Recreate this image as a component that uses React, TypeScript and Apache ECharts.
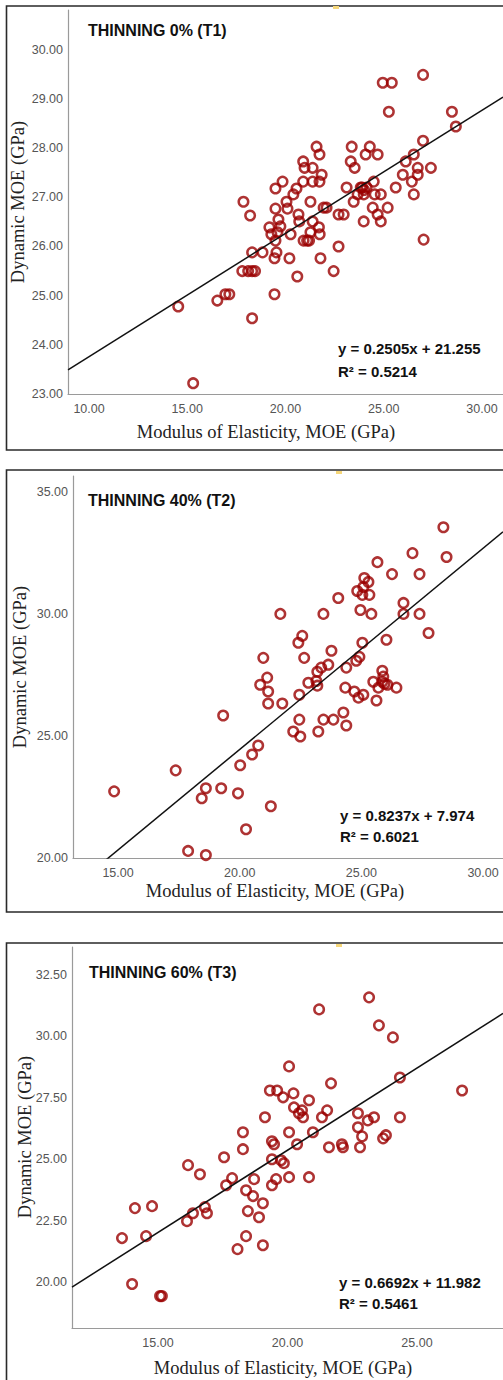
import React, { useEffect, useRef } from "react";
import * as echarts from "echarts";

// ---- Data ----
const t1X = [17.86, 18.2, 19.18, 19.49, 19.85, 19.49, 20.05, 20.1, 20.4, 20.56, 20.66, 20.7, 20.9, 20.9, 20.97, 21.27, 21.38, 21.38, 21.58, 21.73, 21.73, 21.84, 21.38, 21.7, 21.94, 22.09, 22.7, 22.96, 23.11, 23.32, 23.37, 23.52, 23.47, 23.67, 23.83, 23.98, 23.98, 24.08, 24.13, 24.29, 24.44, 24.49, 24.54, 24.69, 24.69, 24.85, 24.85, 24.95, 25.41, 25.26, 25.2, 25.61, 25.97, 26.12, 26.43, 26.53, 26.53, 26.73, 26.73, 27.0, 27.0, 27.4, 28.47, 28.67, 14.54, 15.3, 16.53, 16.94, 17.14, 17.8, 18.1, 18.3, 18.45, 18.3, 18.3, 18.83, 19.44, 19.44, 19.54, 19.28, 19.49, 19.59, 19.74, 20.2, 20.26, 20.6, 20.92, 21.1, 21.2, 21.27, 21.74, 21.78, 22.45, 22.7, 27.03, 19.64, 23.9, 24.0];
const t1Y = [26.91, 26.63, 26.39, 27.18, 27.32, 26.77, 26.91, 26.77, 27.06, 27.18, 26.65, 26.51, 27.32, 27.73, 27.6, 26.91, 27.6, 27.32, 28.03, 27.87, 27.32, 27.46, 26.51, 26.39, 26.79, 26.79, 26.65, 26.65, 27.2, 27.73, 28.03, 27.6, 26.91, 27.06, 27.2, 27.06, 26.51, 27.87, 27.2, 28.03, 26.79, 27.32, 27.06, 27.87, 26.65, 27.06, 26.51, 29.33, 29.33, 28.74, 26.79, 27.2, 27.46, 27.73, 27.32, 27.87, 27.06, 27.46, 27.6, 29.49, 28.15, 27.6, 28.74, 28.44, 24.78, 23.22, 24.9, 25.03, 25.03, 25.5, 25.5, 25.5, 25.5, 24.54, 25.88, 25.88, 25.03, 25.76, 25.88, 26.25, 26.12, 26.29, 26.41, 25.76, 26.25, 25.39, 26.12, 26.12, 26.12, 26.29, 26.25, 25.76, 25.5, 26.0, 26.14, 26.55, 27.2, 27.15];

const t2X = [28.37, 28.5, 27.1, 27.39, 25.66, 26.26, 25.12, 25.29, 24.83, 25.04, 25.33, 25.08, 24.05, 24.96, 25.41, 26.73, 26.73, 27.39, 27.76, 21.67, 23.44, 26.03, 25.04, 22.41, 22.57, 23.77, 20.97, 22.65, 24.79, 24.92, 23.64, 24.38, 23.19, 23.35, 25.86, 21.13, 20.84, 21.17, 21.17, 21.75, 22.45, 22.82, 23.19, 24.34, 24.71, 24.88, 25.08, 25.49, 25.7, 25.95, 26.07, 26.44, 25.62, 19.32, 22.45, 23.44, 23.85, 24.26, 24.38, 22.2, 23.23, 22.49, 20.76, 20.51, 20.02, 17.37, 14.84, 18.61, 18.44, 19.24, 19.93, 21.28, 20.26, 17.88, 18.61, 25.9, 25.86, 23.15];
const t2Y = [33.55, 32.33, 32.49, 31.63, 32.12, 31.63, 31.47, 31.31, 30.94, 30.78, 30.78, 31.1, 30.65, 30.16, 30.0, 30.45, 30.0, 30.0, 29.22, 30.0, 30.0, 28.94, 28.82, 28.82, 29.1, 28.49, 28.2, 28.2, 28.08, 28.24, 27.92, 27.8, 27.63, 27.8, 27.67, 27.39, 27.1, 26.82, 26.33, 26.33, 26.69, 27.18, 27.06, 26.98, 26.82, 26.57, 26.69, 27.22, 26.98, 27.14, 27.1, 26.98, 26.45, 25.84, 25.67, 25.67, 25.67, 25.96, 25.43, 25.18, 25.18, 24.98, 24.61, 24.24, 23.8, 23.59, 22.73, 22.86, 22.45, 22.86, 22.65, 22.12, 21.18, 20.29, 20.12, 27.43, 27.22, 27.25];

const t3X = [23.15, 21.22, 23.53, 24.07, 20.06, 21.68, 24.34, 26.74, 19.32, 19.6, 19.83, 20.23, 20.83, 20.25, 20.44, 20.56, 20.6, 21.53, 21.33, 19.13, 22.72, 23.1, 23.34, 24.34, 22.72, 22.88, 23.69, 23.8, 18.28, 20.06, 20.98, 19.4, 19.48, 20.37, 18.28, 21.6, 22.1, 22.14, 22.8, 17.55, 19.4, 19.75, 19.86, 16.16, 16.62, 17.86, 17.63, 18.71, 19.4, 19.56, 20.06, 20.83, 18.4, 18.67, 19.05, 14.11, 14.77, 16.81, 16.35, 16.89, 18.47, 16.12, 18.9, 13.61, 14.54, 18.4, 19.05, 18.07, 14.0, 15.08, 15.15];
const t3Y = [31.59, 31.1, 30.45, 29.96, 28.78, 28.09, 28.33, 27.8, 27.8, 27.8, 27.52, 27.68, 27.4, 27.11, 26.87, 26.99, 26.71, 26.99, 26.71, 26.71, 26.87, 26.58, 26.71, 26.71, 26.3, 25.93, 25.85, 25.98, 26.1, 26.1, 26.1, 25.73, 25.61, 25.61, 25.41, 25.49, 25.61, 25.49, 25.49, 25.08, 25.0, 24.96, 24.84, 24.76, 24.39, 24.23, 23.94, 24.19, 23.94, 24.19, 24.27, 24.27, 23.74, 23.5, 23.21, 23.01, 23.09, 23.05, 22.8, 22.8, 22.89, 22.48, 22.64, 21.79, 21.87, 21.87, 21.5, 21.34, 19.92, 19.43, 19.43];

const slopes = [0.2505, 0.8237, 0.6692];
const intercepts = [21.255, 7.974, 11.982];
const r2Values = ["0.5214", "0.6021", "0.5461"];
const slopeText = ["0.2505", "0.8237", "0.6692"];
const interceptText = ["21.255", "7.974", "11.982"];
const titles = ["THINNING 0% (T1)", "THINNING 40% (T2)", "THINNING 60% (T3)"];
const xTickValues = [[10, 15, 20, 25, 30], [15, 20, 25, 30], [15, 20, 25]];
const yTickValues = [[23, 24, 25, 26, 27, 28, 29, 30], [20, 25, 30, 35], [20, 22.5, 25, 27.5, 30, 32.5]];
const xTitle = "Modulus of Elasticity, MOE (GPa)";
const yTitle = "Dynamic MOE (GPa)";

// ---- Layout ----
const xRange = [[8.93, 31.07], [13.15, 30.82], [11.68, 28.32]];
const yRange = [[23, 30.81], [20, 35.65], [18.13, 33.64]];
const grids = [
  { left: 68, top: 10, width: 435, height: 384 },
  { left: 73, top: 476, width: 430, height: 382 },
  { left: 72, top: 947, width: 431, height: 381 },
];
const frames = [[6, 450], [470, 912], [943, 1500]];
const titlePos = [[88, 30], [88, 500], [89, 972]];
const eqPos = [[338, 348, 371], [340, 815, 836], [339, 1282, 1303]];
const xTitlePos = [[266, 432], [275, 891], [283, 1368]];
const yTitlePos = [[18, 202], [19.5, 667], [25, 1137]];
const marks = [[333, 6], [336, 471], [336, 944]];

const POINT = "#9a0000";
const TICK_FONT = "'Liberation Sans Narrow', 'Liberation Sans', Arial, sans-serif";
const SERIF = "'Liberation Serif', 'Times New Roman', serif";
const BOLD_FONT = "'Liberation Sans', Arial, sans-serif";

const panelsX = [t1X, t2X, t3X];
const panelsY = [t1Y, t2Y, t3Y];

export default function App() {
  const ref = useRef<HTMLDivElement>(null);
  useEffect(() => {
    if (!ref.current) return;
    const chart = echarts.init(ref.current, undefined, { renderer: "svg" });
    const fmt = (v: number) => Number(v).toFixed(2);
    const xAxis = [0, 1, 2].map((i) => ({
      type: "value",
      gridIndex: i,
      min: xRange[i][0],
      max: xRange[i][1],
      axisLine: { show: true, lineStyle: { color: "#9a9a9a", width: 1.2 } },
      axisTick: { show: false },
      splitLine: { show: false },
      axisLabel: {
        customValues: xTickValues[i],
        formatter: fmt,
        color: "#555",
        fontSize: 12.5,
        fontFamily: TICK_FONT,
        margin: 8,
      },
    }));
    const yAxis = [0, 1, 2].map((i) => ({
      type: "value",
      gridIndex: i,
      min: yRange[i][0],
      max: yRange[i][1],
      axisLine: { show: true, lineStyle: { color: "#9a9a9a", width: 1.2 } },
      axisTick: { show: false },
      splitLine: { show: false },
      axisLabel: {
        customValues: yTickValues[i],
        formatter: fmt,
        color: "#555",
        fontSize: 12.5,
        fontFamily: TICK_FONT,
        margin: 5,
      },
    }));
    const series: any[] = [];
    for (let i = 0; i < 3; i++) {
      series.push({
        type: "scatter",
        xAxisIndex: i,
        yAxisIndex: i,
        data: panelsX[i].map((x, k) => [x, panelsY[i][k]]),
        symbol: "circle",
        symbolSize: 9.5,
        itemStyle: { color: "rgba(0,0,0,0)", borderColor: POINT, borderWidth: 2.5 },
        clip: true,
        z: 3,
      });
      const x0 = xRange[i][0];
      const x1 = xRange[i][1];
      series.push({
        type: "line",
        xAxisIndex: i,
        yAxisIndex: i,
        data: [
          [x0, slopes[i] * x0 + intercepts[i]],
          [x1, slopes[i] * x1 + intercepts[i]],
        ],
        symbol: "none",
        lineStyle: { color: "#111", width: 1.5 },
        clip: true,
        z: 4,
      });
    }
    const graphic: any[] = [];
    for (let i = 0; i < 3; i++) {
      graphic.push({
        type: "rect",
        shape: { x: 6.5, y: frames[i][0], width: 700, height: frames[i][1] - frames[i][0] },
        style: { fill: "none", stroke: "#2a2a2a", lineWidth: 1.6 },
        z: 0,
      });
      graphic.push({
        type: "rect",
        shape: { x: marks[i][0], y: marks[i][1], width: 6, height: 3 },
        style: { fill: "#f6d77a" },
      });
      graphic.push({
        type: "text",
        x: titlePos[i][0],
        y: titlePos[i][1],
        style: {
          text: titles[i],
          fontSize: 16,
          fontWeight: "bold",
          fontFamily: BOLD_FONT,
          fill: "#111",
          textAlign: "left",
          textVerticalAlign: "middle",
          align: "left",
          verticalAlign: "middle",
        },
      });
      graphic.push({
        type: "text",
        x: eqPos[i][0],
        y: eqPos[i][1],
        style: {
          text: "y = " + slopeText[i] + "x + " + interceptText[i],
          fontSize: 15,
          fontWeight: "bold",
          fontFamily: BOLD_FONT,
          fill: "#111",
          textAlign: "left",
          textVerticalAlign: "middle",
          align: "left",
          verticalAlign: "middle",
        },
      });
      graphic.push({
        type: "text",
        x: eqPos[i][0],
        y: eqPos[i][2],
        style: {
          text: "R² = " + r2Values[i],
          fontSize: 15,
          fontWeight: "bold",
          fontFamily: BOLD_FONT,
          fill: "#111",
          textAlign: "left",
          textVerticalAlign: "middle",
          align: "left",
          verticalAlign: "middle",
        },
      });
      graphic.push({
        type: "text",
        x: xTitlePos[i][0],
        y: xTitlePos[i][1],
        style: {
          text: xTitle,
          fontSize: 18.5,
          fontFamily: SERIF,
          fill: "#222",
          textAlign: "center",
          textVerticalAlign: "middle",
          align: "center",
          verticalAlign: "middle",
        },
      });
      graphic.push({
        type: "text",
        x: yTitlePos[i][0],
        y: yTitlePos[i][1],
        rotation: Math.PI / 2,
        style: {
          text: yTitle,
          fontSize: 18.5,
          fontFamily: SERIF,
          fill: "#222",
          textAlign: "center",
          textVerticalAlign: "middle",
          align: "center",
          verticalAlign: "middle",
        },
      });
    }
    chart.setOption({
      animation: false,
      backgroundColor: "#fff",
      grid: grids,
      xAxis,
      yAxis,
      series,
      graphic,
    });
    return () => chart.dispose();
  }, []);
  return (
    <div
      ref={ref}
      style={{ position: "absolute", left: 0, top: 0, width: 503, height: 1380 }}
    />
  );
}
